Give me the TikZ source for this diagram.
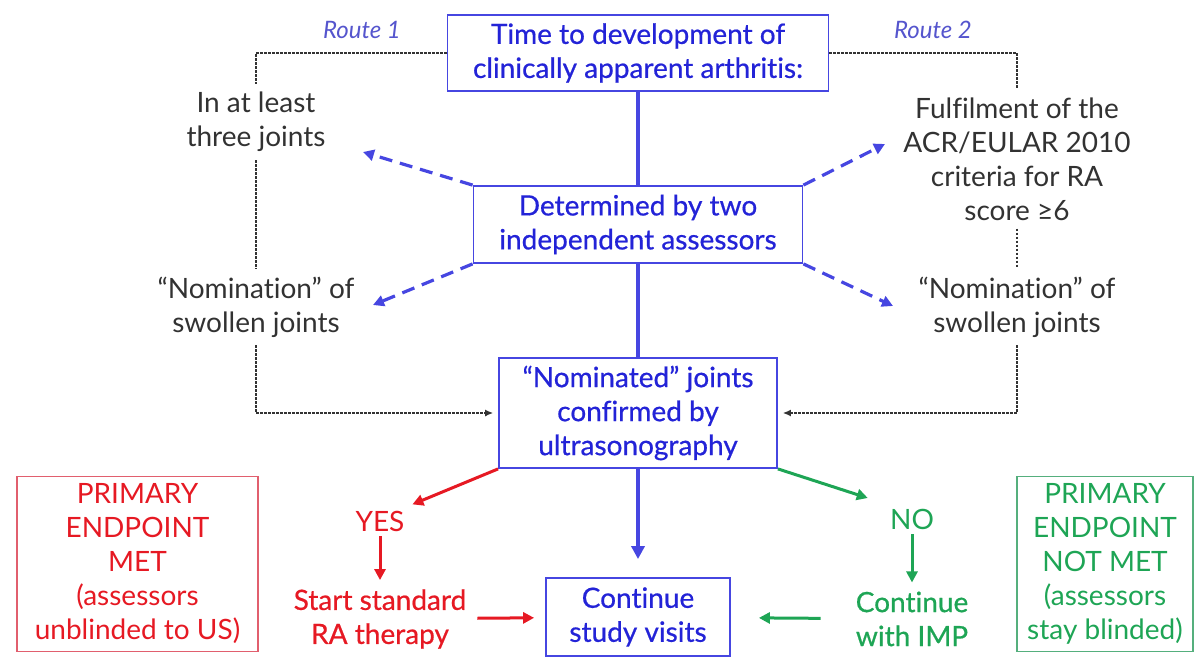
\documentclass[tikz,border=0pt]{standalone}
\usepackage{fontspec}
\setmainfont{Lato}[Ligatures={TeX,NoCommon}]
\newfontfamily\medfont{Lato}[Ligatures={TeX,NoCommon},FakeBold=0.6]
\usetikzlibrary{arrows.meta}
\definecolor{boxblue}{RGB}{70,70,225}
\definecolor{txtblue}{RGB}{35,35,215}
\definecolor{routeblue}{RGB}{85,85,205}
\definecolor{txtred}{RGB}{230,25,35}
\definecolor{boxred}{RGB}{225,95,110}
\definecolor{txtgreen}{RGB}{30,165,85}
\definecolor{boxgreen}{RGB}{85,175,125}
\definecolor{txtgrey}{RGB}{50,50,50}

\begin{document}
\begin{tikzpicture}[x=1pt,y=-1pt,
    every node/.style={align=center,font=\fontsize{28}{34}\selectfont},
    bluebox/.style={draw=boxblue,line width=1.8pt,text=txtblue,inner sep=0pt,
      font=\fontsize{28}{34}\selectfont\medfont},
    greytext/.style={text=txtgrey,inner sep=8pt},
    routetext/.style={text=routeblue,font=\fontsize{24}{28}\selectfont\itshape},
    endbox/.style={draw,line width=1.2pt,inner sep=0pt,minimum height=175},
    bluethick/.style={boxblue,line width=3.5pt},
    bluedash/.style={boxblue,line width=3.2pt,dash pattern=on 13pt off 8pt,
      -{Triangle[length=11pt,width=11pt]}},
    dotline/.style={black!80,line width=1.3pt,dash pattern=on 2.5pt off 1.5pt},
    dotarrow/.style={dotline,-{Latex[length=8pt,width=7pt]},shorten >=5pt},
    redarrow/.style={txtred,line width=3pt,-{Triangle[length=11pt,width=11pt]}},
    greenarrow/.style={txtgreen,line width=3pt,-{Triangle[length=11pt,width=11pt]}}]
    \useasboundingbox (0,0) rectangle (1199,658);

    % boxes of the main path
    \node[bluebox,minimum width=381,minimum height=76] (time) at (638,53) {Time to development of\\clinically apparent arthritis:};
    \node[bluebox,minimum width=329,minimum height=77] (assess) at (638,224.5) {Determined by two\\independent assessors};
    \node[bluebox,minimum width=278,minimum height=110] (usg) at (638,413) {“Nominated” joints\\confirmed by\\ultrasonography};
    \node[bluebox,minimum width=184,minimum height=78] (visits) at (638,617) {Continue\\study visits};

    % the two routes
    \node[routetext] (route1) at (362,30) {Route 1};
    \node[routetext] (route2) at (933,30) {Route 2};
    \node[greytext] (three) at (256,122) {In at least\\three joints};
    \node[greytext] (acr) at (1017,159) {Fulfilment of the\\ACR/EULAR 2010\\criteria for RA\\score ≥6};
    \node[greytext] (nomL) at (256,307) {“Nomination” of\\swollen joints};
    \node[greytext] (nomR) at (1017,307) {“Nomination” of\\swollen joints};

    % outcomes
    \node[text=txtred,inner sep=5pt] (yes) at (380,521) {YES};
    \node[text=txtred,inner sep=5pt,font=\fontsize{28}{34}\selectfont\medfont] (start) at (380,619) {Start standard\\RA therapy};
    \node[text=txtgreen,inner sep=5pt] (no) at (912,519) {NO};
    \node[text=txtgreen,inner sep=5pt,font=\fontsize{28}{34}\selectfont\medfont] (imp) at (912,619) {Continue\\with IMP};
    \node[endbox,draw=boxred,text=txtred,minimum width=241] (met) at (137.5,564) {PRIMARY\\ENDPOINT\\MET\\(assessors\\unblinded to US)};
    \node[endbox,draw=boxgreen,text=txtgreen,minimum width=176] (notmet) at (1105,564) {PRIMARY\\ENDPOINT\\NOT MET\\(assessors\\stay blinded)};

    \draw[bluethick] (time) -- (assess);
    \draw[bluethick] (assess) -- (usg);
    \draw[bluethick,-{Triangle[length=13pt,width=13pt]},shorten >=18pt] (usg) -- (visits);

    \coordinate (tipNW) at (363,152);
    \coordinate (tipSW) at (373,305);
    \coordinate (tipNE) at (885,144);
    \coordinate (tipSE) at (893,306);
    \draw[bluedash] (assess.north west) -- (tipNW);
    \draw[bluedash] (assess.south west) -- (tipSW);
    \draw[bluedash] (assess.north east) -- (tipNE);
    \draw[bluedash] (assess.south east) -- (tipSE);

    \draw[dotline] (time.west) -| (three.north);
    \draw[dotline] (three.south) -- (nomL.north);
    \draw[dotarrow] (nomL.south) |- (usg.west);
    \draw[dotline] (time.east) -| (acr.north);
    \draw[dotline] (acr.south) -- (nomR.north);
    \draw[dotarrow] (nomR.south) |- (usg.east);

    \draw[redarrow,shorten >=3pt] (usg.south west) -- (yes.north east);
    \draw[redarrow,shorten >=4pt] (yes) -- (start);
    \draw[redarrow,shorten <=6pt,shorten >=11pt] (start) -- (visits);
    \draw[greenarrow,shorten >=18pt] (usg.south east) -- (no.north west);
    \draw[greenarrow,shorten >=4pt] (no) -- (imp);
    \draw[greenarrow,shorten <=30pt,shorten >=28pt] (imp) -- (visits);
\end{tikzpicture}
\end{document}
